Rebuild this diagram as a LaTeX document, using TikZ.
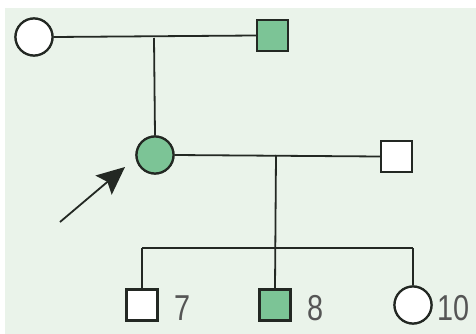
\documentclass[tikz,border=0pt]{standalone}
\usepackage{fontspec}
\setmainfont{Liberation Sans}
\usetikzlibrary{arrows.meta}
\definecolor{bgpale}{RGB}{234,243,234}
\definecolor{affected}{RGB}{124,196,150}
\definecolor{edge}{RGB}{35,40,35}
\definecolor{numgray}{RGB}{85,85,85}
\newcommand{\narrownum}[1]{\scalebox{0.8}[1]{#1}}
\begin{document}
\begin{tikzpicture}[x=1pt,y=-1pt,
  line/.style={draw=edge,line width=1.8pt},
  male/.style={draw=edge,line width=2.2pt,fill=white,minimum size=31pt,inner sep=0pt,rectangle},
  female/.style={draw=edge,line width=2.2pt,fill=white,minimum size=37pt,inner sep=0pt,circle},
  sick/.style={fill=affected},
  num/.style={font=\fontsize{36}{36}\selectfont,text=numgray,inner sep=0pt,anchor=west}]
  % canvas and pale backdrop
  \useasboundingbox (0,0) rectangle (476,334);
  \fill[white] (0,0) rectangle (476,334);
  \fill[bgpale] (5,8) rectangle (476,334);

  % first generation
  \node[female] (i1) at (34,37) {};
  \node[male,sick] (i2) at (272.5,35.5) {};
  \coordinate (m1) at (154,38);

  % second generation
  \node[female,sick] (ii1) at (155,155) {};
  \node[male] (ii2) at (396.5,156.5) {};
  \coordinate (m2) at (276,155);

  % third generation
  \node[male] (c7) at (142,305) {};
  \node[male,sick] (c8) at (275,305) {};
  \node[female] (c10) at (413,305) {};
  \coordinate (sib) at (276,248);
  \coordinate (s7) at (142,248);
  \coordinate (s10) at (413,248);

  % marriage and descent lines
  \draw[line] (i1.east) -- (i2.west);
  \draw[line] (m1) -- (ii1.north);
  \draw[line] (ii1.east) -- (ii2.west);
  \draw[line] (m2) -- (c8.north);
  \draw[line] (s7) -- (s10);
  \draw[line] (s7) -- (c7.north);
  \draw[line] (s10) -- (c10.north);

  % redraw symbols on top of the lines
  \node[female] at (i1) {};
  \node[male,sick] at (i2) {};
  \node[female,sick] at (ii1) {};
  \node[male] at (ii2) {};
  \node[male] at (c7) {};
  \node[male,sick] at (c8) {};
  \node[female] at (c10) {};

  % individual numbers
  \node[num] (n7) at (174,308) {\narrownum{7}};
  \node[num] (n8) at (307,308) {\narrownum{8}};
  \node[num] (n10) at (437,308) {\narrownum{10}};

  % proband arrow
  \coordinate (tail) at (60,222);
  \coordinate (tip) at (125,167);
  \draw[line,-{Stealth[length=28pt,width=25pt,inset=5pt]}] (tail) -- (tip);
\end{tikzpicture}
\end{document}
